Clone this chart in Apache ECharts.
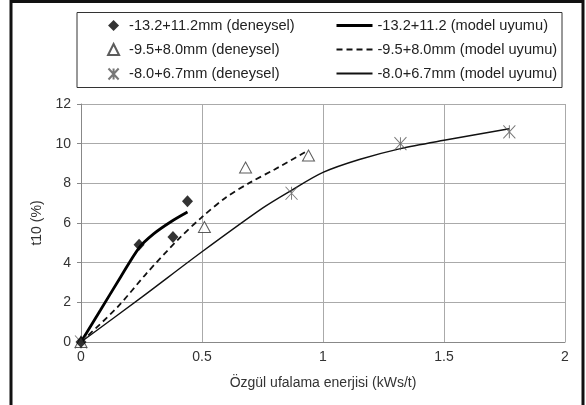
<!DOCTYPE html>
<html>
<head>
<meta charset="utf-8">
<script src="https://cdn.jsdelivr.net/npm/echarts@6/dist/echarts.min.js"></script>
<style>html,body{margin:0;padding:0;background:#fff;}#c{width:586px;height:405px;}</style>
</head>
<body>
<div id="c"></div>
<script>
// Experimental data (deneysel)
var expLargeX = [0, 0.24, 0.38, 0.44];
var expLargeY = [0, 4.9, 5.3, 7.1];
var expMidX = [0, 0.51, 0.68, 0.94];
var expMidY = [0, 5.8, 8.8, 9.4];
var expSmallX = [0, 0.87, 1.32, 1.77];
var expSmallY = [0, 7.5, 10.0, 10.6];
// Model fits (model uyumu)
var modelLargeX = [0, 0.08, 0.16, 0.24, 0.30, 0.37, 0.44];
var modelLargeY = [0, 1.6, 3.2, 4.75, 5.45, 6.05, 6.55];
var modelMidX = [0, 0.15, 0.27, 0.40, 0.50, 0.60, 0.70, 0.80, 0.93];
var modelMidY = [0, 1.75, 3.45, 5.15, 6.3, 7.3, 8.05, 8.7, 9.6];
var modelSmallX = [0, 0.25, 0.50, 0.75, 0.87, 1.00, 1.15, 1.32, 1.50, 1.77];
var modelSmallY = [0, 2.25, 4.55, 6.75, 7.65, 8.55, 9.2, 9.75, 10.17, 10.75];
// Names and ticks
var expNames = ['-13.2+11.2mm (deneysel)', '-9.5+8.0mm (deneysel)', '-8.0+6.7mm (deneysel)'];
var modelNames = ['-13.2+11.2 (model uyumu)', '-9.5+8.0mm (model uyumu)', '-8.0+6.7mm (model uyumu)'];
var xTicks = {min: 0, max: 2, step: 0.5};
var yTicks = {min: 0, max: 12, step: 2};
var xTitle = 'Özgül ufalama enerjisi (kWs/t)';
var yTitle = 't10 (%)';

function pairs(xs, ys) { return xs.map(function (x, i) { return [x, ys[i]]; }); }

var FONT = 'Liberation Sans, Arial, sans-serif';
var chart = echarts.init(document.getElementById('c'), null, {renderer: 'canvas'});
var star = 'path://M0,0 L12,13 M12,0 L0,13 M6,0 L6,13';

chart.setOption({
  animation: false,
  backgroundColor: '#fff',
  textStyle: {fontFamily: FONT},
  grid: {left: 81, right: 21, top: 104, bottom: 63, containLabel: false},
  xAxis: {
    type: 'value', min: xTicks.min, max: xTicks.max, interval: xTicks.step,
    name: xTitle, nameLocation: 'middle', nameGap: 34,
    nameTextStyle: {fontFamily: FONT, fontSize: 14, color: '#333'},
    axisLine: {show: true, onZero: false, lineStyle: {color: '#888', width: 1}},
    axisTick: {show: false},
    axisLabel: {fontFamily: FONT, fontSize: 14, color: '#333', margin: 8},
    splitLine: {show: true, lineStyle: {color: '#aaa', width: 1}}
  },
  yAxis: {
    type: 'value', min: yTicks.min, max: yTicks.max, interval: yTicks.step,
    name: yTitle, nameLocation: 'middle', nameGap: 32, nameRotate: 90,
    nameTextStyle: {fontFamily: FONT, fontSize: 14, color: '#333'},
    axisLine: {show: true, lineStyle: {color: '#888', width: 1}},
    axisTick: {show: true, length: 4, lineStyle: {color: '#888'}},
    axisLabel: {fontFamily: FONT, fontSize: 14, color: '#333', margin: 10},
    splitLine: {show: true, lineStyle: {color: '#aaa', width: 1}}
  },
  legend: [
    {
      data: expNames, orient: 'vertical', left: 101, top: 13,
      itemWidth: 11, itemHeight: 11, itemGap: 9,
      textStyle: {fontFamily: FONT, fontSize: 14.6, color: '#222', padding: [0, 0, 0, 5]}
    },
    {
      data: [
        {name: modelNames[0], lineStyle: {width: 3}},
        {name: modelNames[1]},
        {name: modelNames[2]}
      ],
      orient: 'vertical', left: 330, top: 13,
      itemWidth: 36, itemHeight: 11, itemGap: 9,
      itemStyle: {opacity: 0},
      textStyle: {fontFamily: FONT, fontSize: 14.6, color: '#222'}
    }
  ],
  graphic: [
    {type: 'rect', shape: {x: 77, y: 12.5, width: 485, height: 75}, style: {fill: 'none', stroke: '#333', lineWidth: 1}, z: 0},
    {type: 'rect', shape: {x: 11, y: 1.5, width: 572, height: 430}, style: {fill: 'none', stroke: '#111', lineWidth: 3}, z: 100}
  ],
  series: [
    {
      name: modelNames[2], type: 'line', data: pairs(modelSmallX, modelSmallY), smooth: 0.3,
      symbol: 'none', lineStyle: {color: '#111', width: 1.4, type: 'solid'}, itemStyle: {color: '#111'}, z: 2
    },
    {
      name: modelNames[1], type: 'line', data: pairs(modelMidX, modelMidY), smooth: 0.3,
      symbol: 'none', lineStyle: {color: '#111', width: 1.8, type: [6, 4]}, itemStyle: {color: '#111'}, z: 2
    },
    {
      name: modelNames[0], type: 'line', data: pairs(modelLargeX, modelLargeY), smooth: 0.3,
      symbol: 'none', lineStyle: {color: '#000', width: 2.8, type: 'solid'}, itemStyle: {color: '#000'}, z: 2
    },
    {
      name: expNames[2], type: 'scatter', data: pairs(expSmallX, expSmallY),
      symbol: star, symbolSize: [12, 13],
      itemStyle: {color: 'none', borderColor: '#555', borderWidth: 1}, z: 3
    },
    {
      name: expNames[1], type: 'scatter', data: pairs(expMidX, expMidY),
      symbol: 'triangle', symbolSize: [12, 11],
      itemStyle: {color: '#fff', borderColor: '#333', borderWidth: 1}, z: 4
    },
    {
      name: expNames[0], type: 'scatter', data: pairs(expLargeX, expLargeY),
      symbol: 'diamond', symbolSize: [11, 12],
      itemStyle: {color: '#000', borderColor: '#000', borderWidth: 0}, z: 5
    }
  ]
});
</script>
</body>
</html>
